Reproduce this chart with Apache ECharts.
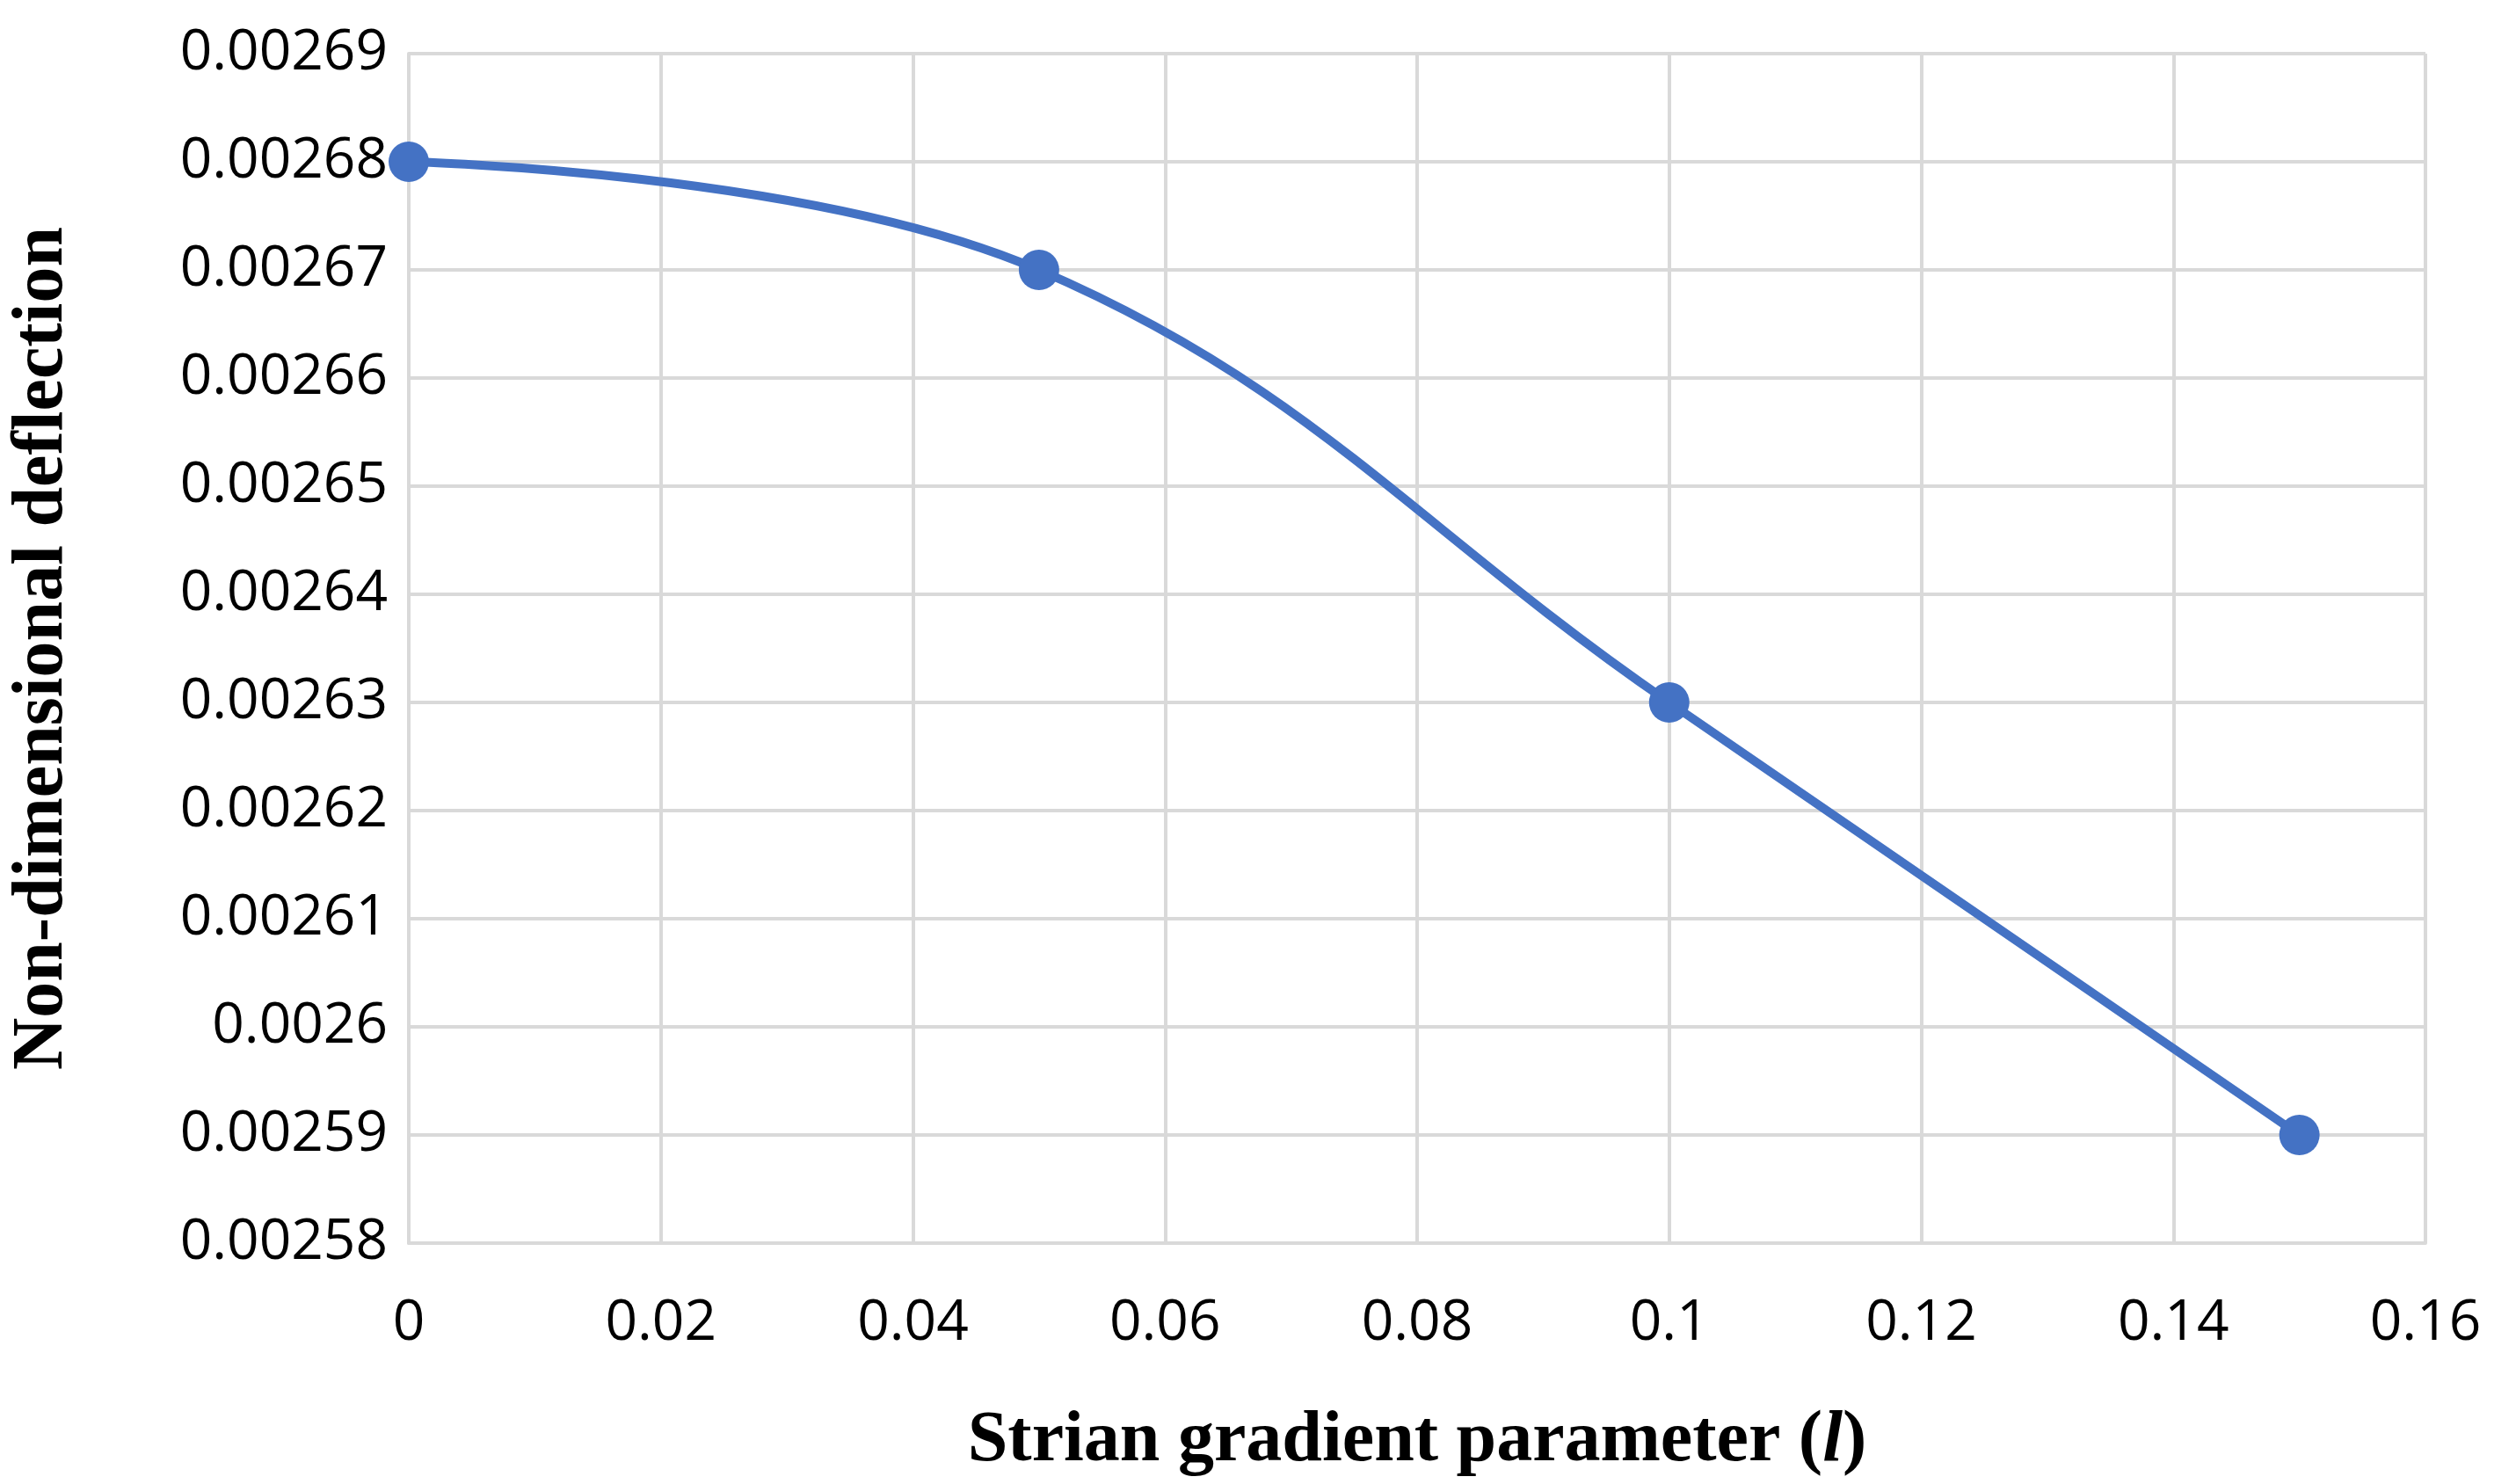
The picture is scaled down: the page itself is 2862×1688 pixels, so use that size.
<!DOCTYPE html>
<html>
<head>
<meta charset="utf-8">
<script src="https://cdn.jsdelivr.net/npm/echarts@6/dist/echarts.min.js"></script>
<style>
html, body { margin: 0; padding: 0; background: #fff; }
#chart { width: 2862px; height: 1688px; }
</style>
</head>
<body>
<div id="chart"></div>
<script>
// data
const xValues = [0, 0.05, 0.1, 0.15];
const yValues = [0.00268, 0.00267, 0.00263, 0.00259];

const points = xValues.map((x, i) => [x, yValues[i]]);
const clean = (v) => String(parseFloat(v.toFixed(6)));

const myChart = echarts.init(document.getElementById('chart'));
myChart.setOption({
    animation: false,
    grid: {
        left: 462,
        right: 103,
        top: 61,
        bottom: 274,
    },
    xAxis: {
        type: 'value',
        min: 0,
        max: 0.16,
        interval: 0.02,
        name: '{n|Strian gradient parameter (}{i|l}{n|)}',
        nameLocation: 'middle',
        nameGap: 185,
        nameTextStyle: {
            rich: {
                n: { fontFamily: 'Liberation Serif', fontWeight: 'bold', fontSize: 82, color: '#000' },
                i: { fontFamily: 'Liberation Serif', fontWeight: 'bold', fontStyle: 'italic', fontSize: 82, color: '#000' },
            },
        },
        axisLine: { lineStyle: { color: '#d9d9d9', width: 4 } },
        axisTick: { show: false },
        splitLine: { lineStyle: { color: '#d9d9d9', width: 4 } },
        axisLabel: {
            formatter: clean,
            fontFamily: 'Open Sans',
            fontSize: 64,
            color: '#000',
            margin: 60,
        },
    },
    yAxis: {
        type: 'value',
        min: 0.00258,
        max: 0.00269,
        interval: 0.00001,
        name: 'Non-dimensional deflection',
        nameLocation: 'middle',
        nameGap: 375,
        nameTextStyle: {
            fontFamily: 'Liberation Serif',
            fontWeight: 'bold',
            fontSize: 82,
            color: '#000',
        },
        axisLine: { show: true, lineStyle: { color: '#d9d9d9', width: 4 } },
        axisTick: { show: false },
        splitLine: { lineStyle: { color: '#d9d9d9', width: 4 } },
        axisLabel: {
            formatter: clean,
            fontFamily: 'Open Sans',
            fontSize: 64,
            color: '#000',
            margin: 24,
        },
    },
    series: [{
        type: 'line',
        data: points,
        smooth: 0.4,
        symbol: 'circle',
        symbolSize: 46,
        lineStyle: { color: '#4472C4', width: 10 },
        itemStyle: { color: '#4472C4' },
    }],
});
</script>
</body>
</html>
